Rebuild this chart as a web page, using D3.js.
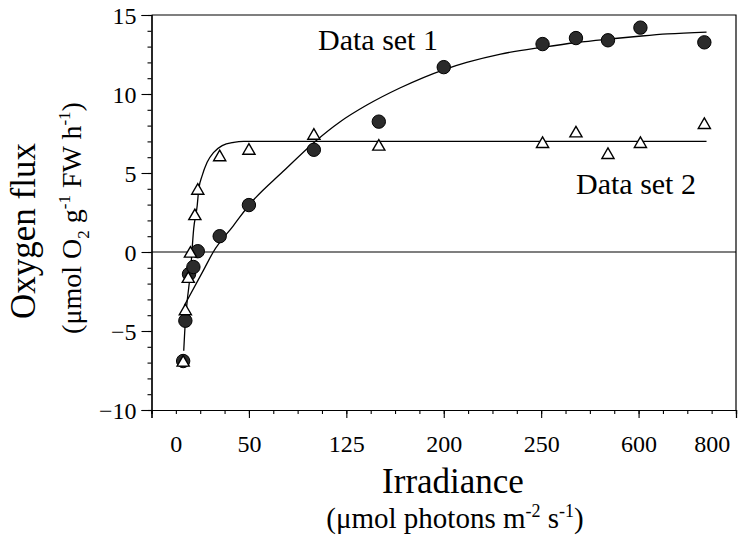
<!DOCTYPE html>
<html>
<head>
<meta charset="utf-8">
<script src="https://cdn.jsdelivr.net/npm/d3@7"></script>
<style>
  html, body { margin: 0; padding: 0; background: #fff; }
  svg { display: block; }
  svg text { font-family: "Liberation Serif", Tinos, "Times New Roman", Times, "DejaVu Serif", serif !important; fill: #000; }
</style>
</head>
<body>
<svg id="chart" width="738" height="544"></svg>
<script>
// ---- data ----
const xTickLabels = [0, 50, 125, 200, 250, 600, 800];
const xTickSlots  = [1, 4, 8, 12, 16, 20, 23];   // slot on the axis grid where each label sits
const xGridMajor  = [0, 4, 8, 12, 16, 20, 24];
const yMajorTicks = [-10, -5, 0, 5, 10, 15];

const set1X = [5, 6.5, 9, 12, 15, 30, 50, 100, 150, 200, 255, 375, 490, 605, 780];
const set1Y = [-6.9, -4.35, -1.4, -0.95, 0.05, 1.0, 2.97, 6.47, 8.25, 11.7, 13.16, 13.54, 13.4, 14.2, 13.27];

const set2X = [5, 6.5, 8.5, 10, 13, 15, 30, 50, 100, 150, 255, 375, 490, 605, 780];
const set2Y = [-7.0, -3.75, -1.7, -0.1, 2.27, 3.88, 6.0, 6.41, 7.36, 6.67, 6.84, 7.51, 6.14, 6.84, 8.04];

const fit1X = [5.75, 18.75, 25.6, 39.3, 50.8, 76.2, 101.5, 120, 140.8, 166.2, 201, 211.8, 229.2, 259, 377.4, 495.9, 608.2, 679.3, 786];
const fit1Y = [-3.4, -1.18, 0, 1.66, 3.04, 5.09, 7.03, 8.23, 9.30, 10.38, 11.58, 12.0, 12.53, 12.97, 13.26, 13.48, 13.67, 13.8, 13.92];

const fit2X = [5.4, 6.5, 7.7, 10, 12.2, 14.6, 15.7, 18, 21.4, 25.9, 31.7, 39.6, 46.4, 786];
const fit2Y = [-6.25, -4.4, -3.16, -1.27, 1.46, 2.93, 3.99, 4.83, 5.68, 6.31, 6.73, 6.94, 7.0, 7.0];

// ---- layout ----
const FONT = '"Liberation Serif", Tinos, "Times New Roman", Times, "DejaVu Serif", serif';
const svg = d3.select("#chart");
const L = 151.5, R = 736, T = 15, B = 410;

const grid = d3.scaleLinear().domain([0, 24]).range([L, R]);
const x = d3.scaleLinear().domain(xTickLabels).range(xTickSlots.map(grid));
const y = d3.scaleLinear().domain([-10, 15]).range([B, T]);

// frame (top & right)
svg.append("path")
  .attr("d", `M${L},${T}H${R}V${B}`)
  .attr("fill", "none").attr("stroke", "#000").attr("stroke-width", 1.2);

// zero line
svg.append("line")
  .attr("x1", L).attr("x2", R).attr("y1", y(0)).attr("y2", y(0))
  .attr("stroke", "#000").attr("stroke-width", 1.2);

// y axis minor + major
svg.append("g").attr("transform", `translate(${L},0)`)
  .call(d3.axisLeft(y).ticks(25).tickSize(4).tickFormat(""));
const yAx = svg.append("g").attr("transform", `translate(${L},0)`)
  .call(d3.axisLeft(y).tickValues(yMajorTicks).tickSize(10).tickPadding(5).tickFormat(d3.format("d")));
yAx.selectAll("text").style("font-size", "24px").attr("dy", "0.34em");

// x axis grid ticks
svg.append("g").attr("transform", `translate(0,${B})`)
  .call(d3.axisBottom(grid).ticks(24).tickSize(4).tickFormat(""));
svg.append("g").attr("transform", `translate(0,${B})`)
  .call(d3.axisBottom(grid).tickValues(xGridMajor).tickSize(8).tickFormat(""));
// x labels
const xAx = svg.append("g").attr("transform", `translate(0,${B})`)
  .call(d3.axisBottom(x).tickValues(xTickLabels).tickSize(0).tickPadding(25).tickFormat(d3.format("d")));
xAx.select(".domain").remove();
xAx.selectAll("text").style("font-size", "24px");

svg.selectAll("g").attr("font-family", FONT);
svg.selectAll(".domain").attr("stroke-width", 1.2);
svg.selectAll(".tick line").attr("stroke-width", 1.1);

// fitted curves
const line = d3.line().x(d => x(d[0])).y(d => y(d[1])).curve(d3.curveMonotoneX);
svg.append("path").datum(fit1X.map((v, i) => [v, fit1Y[i]]))
  .attr("d", line).attr("fill", "none").attr("stroke", "#000").attr("stroke-width", 1.3);
svg.append("path").datum(fit2X.map((v, i) => [v, fit2Y[i]]))
  .attr("d", line).attr("fill", "none").attr("stroke", "#000").attr("stroke-width", 1.3);

// data set 1: filled circles
svg.append("g").selectAll("circle")
  .data(set1X.map((v, i) => [v, set1Y[i]]))
  .join("circle")
  .attr("cx", d => x(d[0])).attr("cy", d => y(d[1])).attr("r", 6.7)
  .attr("fill", "#2b2b2b").attr("stroke", "#000").attr("stroke-width", 1);

// data set 2: open triangles
const tri = d3.symbol().type(d3.symbolTriangle).size(64);
svg.append("g").selectAll("path")
  .data(set2X.map((v, i) => [v, set2Y[i]]))
  .join("path")
  .attr("d", tri)
  .attr("transform", d => `translate(${x(d[0])},${y(d[1])})`)
  .attr("fill", "#fff").attr("stroke", "#000").attr("stroke-width", 1.4);

// labels
function txt(sel) { return sel.attr("font-family", FONT); }
txt(svg.append("text")).attr("x", 318).attr("y", 50).style("font-size", "30px").text("Data set 1");
txt(svg.append("text")).attr("x", 576).attr("y", 194).style("font-size", "30px").text("Data set 2");

// x title
txt(svg.append("text")).attr("x", 453).attr("y", 493).attr("text-anchor", "middle")
  .style("font-size", "35px").text("Irradiance");
const xs = txt(svg.append("text")).attr("x", 455).attr("y", 528).attr("text-anchor", "middle")
  .style("font-size", "29px");
xs.append("tspan").text("(μmol photons m");
xs.append("tspan").attr("dy", -11).style("font-size", "18px").text("-2");
xs.append("tspan").attr("dy", 11).text(" s");
xs.append("tspan").attr("dy", -11).style("font-size", "18px").text("-1");
xs.append("tspan").attr("dy", 11).text(")");

// y title
txt(svg.append("text")).attr("transform", "translate(35,231) rotate(-90)").attr("text-anchor", "middle")
  .style("font-size", "35px").text("Oxygen flux");
const ys = txt(svg.append("text")).attr("transform", "translate(81,218) rotate(-90)").attr("text-anchor", "middle")
  .style("font-size", "28px");
ys.append("tspan").text("(μmol O");
ys.append("tspan").attr("dy", 8).style("font-size", "17px").text("2");
ys.append("tspan").attr("dy", -8).text(" g");
ys.append("tspan").attr("dy", -11).style("font-size", "17px").text("-1");
ys.append("tspan").attr("dy", 11).text(" FW h");
ys.append("tspan").attr("dy", -11).style("font-size", "17px").text("-1");
ys.append("tspan").attr("dy", 11).text(")");
</script>
</body>
</html>
